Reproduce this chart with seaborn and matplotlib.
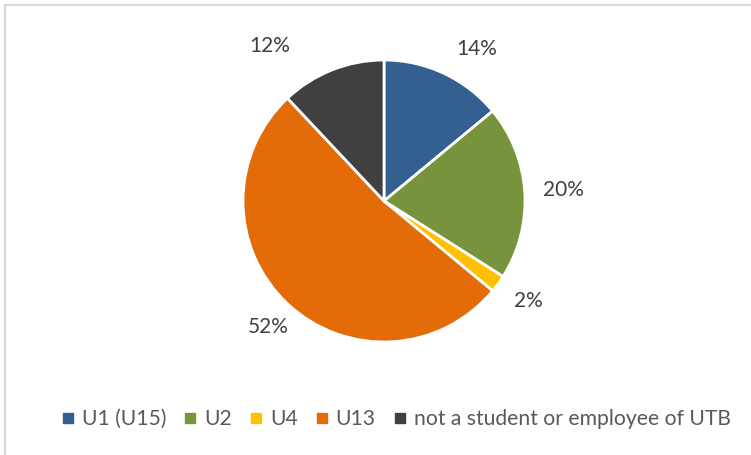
import matplotlib
matplotlib.use("Agg")
import matplotlib.pyplot as plt
from matplotlib.lines import Line2D
from matplotlib.patches import Rectangle
import seaborn as sns

# Share of respondents by affiliation
categories = ["U1 (U15)", "U2", "U4", "U13", "not a student or employee of UTB"]
shares = [14, 20, 2, 52, 12]
colors = ["#335f91", "#77933c", "#ffc000", "#e36c09", "#404040"]

sns.set_theme(style="white")
plt.rcParams["font.family"] = ["Lato", "DejaVu Sans"]

W, H = 751, 455
fig = plt.figure(figsize=(W / 100, H / 100), dpi=100)
ax = fig.add_axes([0, 0, 1, 1])

cx, cy, r = 384, H - 201, 141
wedges, _ = ax.pie(
    shares, colors=sns.color_palette(colors), startangle=90, counterclock=False,
    center=(cx, cy), radius=r, frame=True,
    wedgeprops=dict(edgecolor="white", linewidth=2),
)
ax.set_xlim(0, W)
ax.set_ylim(0, H)
ax.set_aspect("equal")
ax.axis("off")

# Percentage labels placed around the pie (offsets from centre, in pixels)
label_offsets = [(93, 152), (179, 11), (144, -100), (-116, -126), (-114, 155)]
for s, (dx, dy) in zip(shares, label_offsets):
    ax.text(cx + dx, cy + dy, f"{s}%", ha="center", va="center",
            fontsize=15, color="#404040")

handles = [Line2D([], [], marker="s", linestyle="none", markersize=7.5,
                  markerfacecolor=c, markeredgecolor=c) for c in colors]
fig.legend(handles, categories, loc="center", ncol=5, frameon=False,
           bbox_to_anchor=(396 / W, 1 - 419 / H), fontsize=15.2,
           labelcolor="#595959", handlelength=0.6, handletextpad=0.35,
           columnspacing=0.85)

# Chart area border
fig.patches.append(Rectangle((5 / W, -0.1), 1.2, 1 - 5 / H + 0.1,
                             transform=fig.transFigure, fill=False,
                             edgecolor="#d9d9d9", linewidth=1.5))

fig.savefig("out.png", dpi=100)
